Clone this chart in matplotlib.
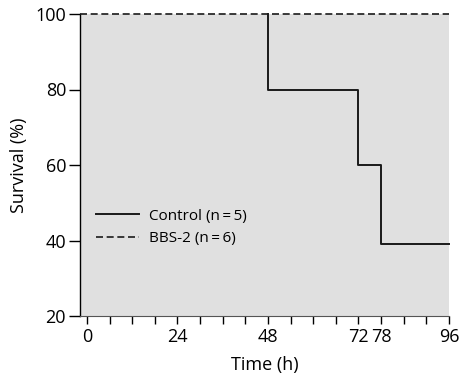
import numpy as np
import matplotlib.pyplot as plt

plt.rcParams['font.family'] = ['Open Sans', 'DejaVu Sans']

# Survival data (time in h, survival in %)
control_time = [0, 48, 72, 78, 96]
control_surv = [100, 80, 60, 39, 39]
bbs_time = [-1.85, 96]
bbs_surv = [100, 100]

xtick_major = [0, 24, 48, 72, 78, 96]
ytick_major = [20, 40, 60, 80, 100]

fig = plt.figure(figsize=(4.61, 3.78), dpi=100)
ax = fig.add_axes([80 / 461, 62 / 378, 369 / 461, 302 / 378])
ax.set_facecolor('#e0e0e0')

# control: the 100% stretch before the first death is hidden under the dashed line
xs = [control_time[1]] + control_time[1:]
ys = [control_surv[0]] + control_surv[1:]
ax.step(xs, ys, where='post', color='#1a1a1a', lw=1.4,
        label='Control (n\u2009=\u20095)', clip_on=False, zorder=3)
ax.plot(bbs_time, bbs_surv, color='#1a1a1a', lw=1.2, dashes=(4.2, 2.2),
        label='BBS-2 (n\u2009=\u20096)', clip_on=False, zorder=4)

ax.set_xlim(-1.85, 96)
ax.set_ylim(20, 100)

ax.set_xticks(np.arange(0, 97, 6), minor=True)
ax.set_xticks(xtick_major)
ax.set_xticklabels([str(t) for t in xtick_major])
ax.set_yticks(ytick_major)

for s in ['top', 'right']:
    ax.spines[s].set_visible(False)
ax.spines['left'].set_linewidth(1.0)
ax.spines['bottom'].set_linewidth(0.8)
ax.spines['bottom'].set_color('#555555')

ax.tick_params(axis='y', direction='out', length=8, width=1.0, labelsize=13, pad=2)
ax.tick_params(axis='x', which='both', direction='out', length=6, width=1.0, labelsize=13, pad=3)

ax.set_xlabel('Time (h)', fontsize=13, labelpad=7)
ax.set_ylabel('Survival (%)', fontsize=13, labelpad=5)

leg = ax.legend(loc='upper left', bbox_to_anchor=(0.043, 0.355), frameon=False,
                fontsize=11, handlelength=2.8, handletextpad=0.7,
                labelspacing=0.5, borderpad=0, borderaxespad=0)

fig.savefig('out.png', dpi=100)
